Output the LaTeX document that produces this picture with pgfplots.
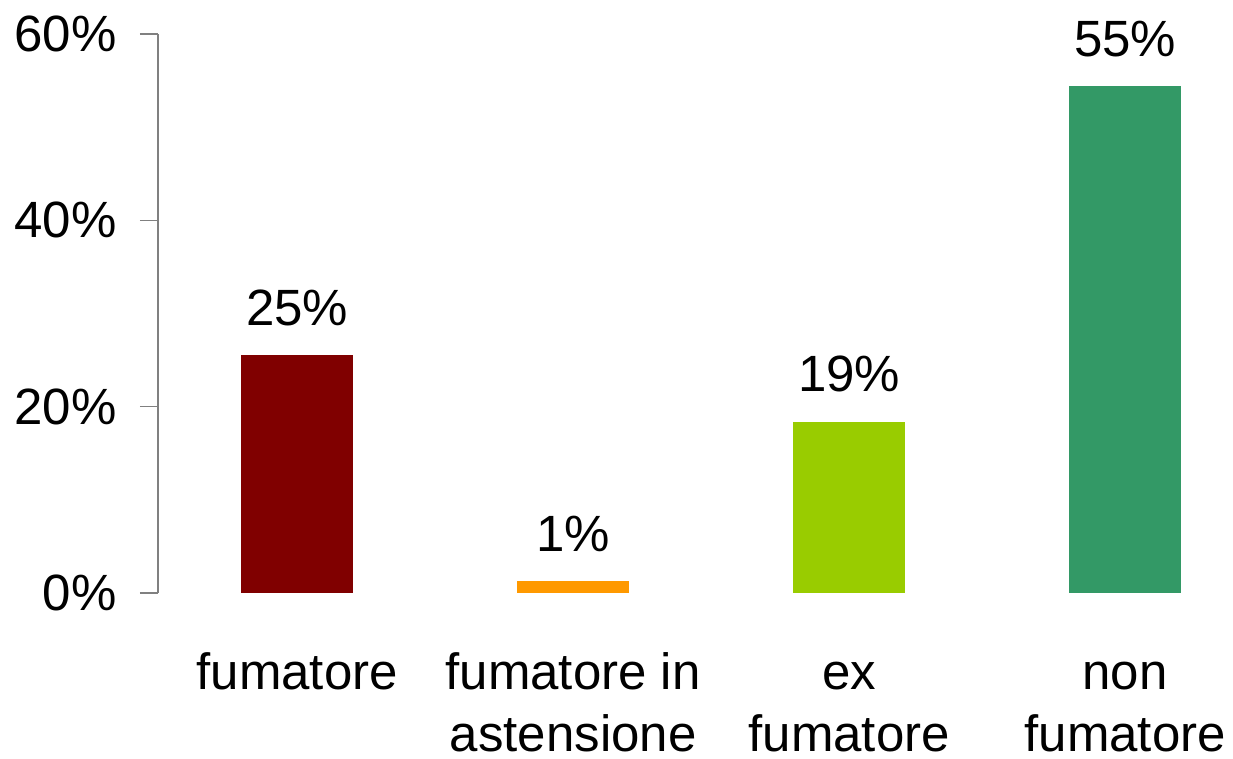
\documentclass[border=0pt]{standalone}
\usepackage{fontspec}
\setmainfont{Liberation Sans}
\usepackage{pgfplots}
\pgfplotsset{compat=1.18}
\definecolor{c1}{HTML}{800000}
\definecolor{c2}{HTML}{FF9900}
\definecolor{c3}{HTML}{99CC00}
\definecolor{c4}{HTML}{339966}
\definecolor{axgray}{HTML}{808080}
\begin{document}
\begin{tikzpicture}
\begin{axis}[
  scale only axis,
  width=536pt, height=279.5pt,
  ybar, bar width=56pt, bar shift=0pt,
  xmin=-0.504, xmax=3.38,
  ymin=0, ymax=60,
  axis x line*=bottom,
  x axis line style={draw=none},
  axis y line*=left,
  y axis line style={draw=axgray, line width=0.8pt},
  ytick={0,20,40,60},
  yticklabels={0\%,20\%,40\%,60\%},
  ytick align=outside,
  major tick length=9pt,
  ytick style={draw=axgray, line width=0.8pt},
  yticklabel style={font=\fontsize{25.5}{31}\selectfont, inner sep=0pt, anchor=east, xshift=-11.5pt},
  xtick={0,1,2,3},
  xticklabels={\strut fumatore,\strut fumatore in\\astensione,\strut ex\\fumatore,\strut non\\fumatore},
  xtick style={draw=none},
  xticklabel style={font=\fontsize{25.5}{31}\selectfont, align=center, inner sep=0pt, anchor=north, yshift=-17.3pt},
  point meta=explicit symbolic,
  nodes near coords,
  every node near coord/.append style={font=\fontsize{25.5}{31}\selectfont, inner sep=0pt, anchor=south, yshift=14.5pt},
]
\addplot[fill=c1, draw=none] coordinates {(0,25.5) [25\%]};
\addplot[fill=c2, draw=none] coordinates {(1,1.3) [1\%]};
\addplot[fill=c3, draw=none] coordinates {(2,18.4) [19\%]};
\addplot[fill=c4, draw=none] coordinates {(3,54.4) [55\%]};
\end{axis}
\pgfresetboundingbox
\useasboundingbox (-79pt,-83pt) rectangle (537.5pt,296.5pt);
\end{tikzpicture}
\end{document}
